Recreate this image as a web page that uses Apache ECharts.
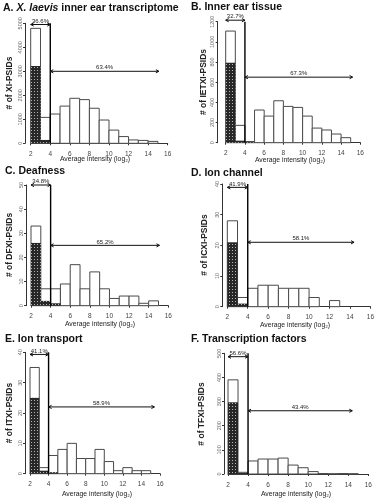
<!DOCTYPE html>
<html><head><meta charset="utf-8">
<script src="https://cdn.jsdelivr.net/npm/echarts@6/dist/echarts.min.js"></script>
<style>html,body{margin:0;padding:0;background:#fff}#c{width:377px;height:499px}</style>
</head><body><div id="c"></div>
<script>
// ---------- data ----------
const binStarts = [2,3,4,5,6,7,8,9,10,11,12,13,14];   // bins of width 1 (log2 intensity)
const xTicks = [2,4,6,8,10,12,14,16];

const allA = [4790,1080,1220,1550,1875,1820,1460,970,550,280,140,120,80];
const lowA = [3220,140,15,0,0,0,0,0,0,0,0,0,0];
const allB = [1107,172,12,324,264,416,360,350,264,145,126,86,50];
const lowB = [793,20,5,0,0,0,0,0,0,0,0,0,0];
const allC = [33,7,7,9,17,7,14,7,3,4,4,1,2];
const lowC = [26,2,1,0,0,0,0,0,0,0,0,0,0];
const allD = [28,3,6,7,7,6,6,6,3,0,2,0,0];
const lowD = [21,1,0,0,0,0,0,0,0,0,0,0,0];
const allE = [35,2,6,8,10,5,5,8,4,1,2,1,1];
const lowE = [25,1,0.5,0,0,0,0,0,0,0,0,0,0];
const allF = [390,7,54,62,62,66,37,26,10,2,1,2,1];
const lowF = [297,4,0,0,0,0,0,0,0,0,0,0,0];

const yMaxes = [5000,1200,50,40,40,500];
const ySteps = [1000,200,10,10,10,100];
const lowPct  = ['36.6%','32.7%','34.8%','41.9%','41.1%','56.6%'];
const highPct = ['63.4%','67.3%','65.2%','58.1%','58.9%','43.4%'];
const topArrowY = [4950,1215,50,38.9,39.3,486];
const midArrowY = [3000,650,25,21,22,262];
const midArrowEnd = [15.1,15.2,15.1,14.4,15.4,14.4];
const cutoff = 4;
const yNames = ['# of XI-PSIDs','# of IETXI-PSIDs','# of DFXI-PSIDs','# of ICXI-PSIDs','# of ITXI-PSIDs','# of TFXI-PSIDs'];
const titles = [
  '{b|A. }{bi|X. laevis}{b| inner ear transcriptome}',
  '{b|B. Inner ear tissue}',
  '{b|C. Deafness}',
  '{b|D. Ion channel}',
  '{b|E. Ion transport}',
  '{b|F. Transcription factors}'
];
const xName = 'Average intensity (log\u2082)';
const allSets = [allA,allB,allC,allD,allE,allF];
const lowSets = [lowA,lowB,lowC,lowD,lowE,lowF];

// ---------- layout (pixels) ----------
const layout = [
  {grid:{left:30.7,top:23.3,width:137,height:120}, yOff:5.7, title:[3,8], yName:[10,83], xName:[95,159.5]},
  {grid:{left:225.7,top:21.7,width:134.6,height:121}, yOff:8, title:[191,7.5], yName:[204,82], xName:[290,160]},
  {grid:{left:31,top:185,width:137.3,height:120.7}, yOff:5, title:[5,171], yName:[10,245], xName:[100,324.3]},
  {grid:{left:227.3,top:184,width:143.4,height:122.7}, yOff:5, title:[191,173], yName:[205,245], xName:[295,325.3]},
  {grid:{left:30,top:352.3,width:130,height:121.4}, yOff:5, title:[5,339], yName:[9.5,413], xName:[97,494.3]},
  {grid:{left:228,top:353.3,width:140.3,height:120.7}, yOff:4, title:[191,339], yName:[202,414], xName:[296,494]}
];

const FF = '"Liberation Sans", Arial, sans-serif';

// hatch pattern for the low-intensity part
const pc = document.createElement('canvas'); pc.width = 3; pc.height = 3;
const pg = pc.getContext('2d');
pg.fillStyle = '#272727'; pg.fillRect(0,0,3,3);
pg.fillStyle = '#b5b5b5'; pg.fillRect(1,1,1,1);
const hatch = {image: pc, repeat: 'repeat'};

function barRenderer(fill, stroke) {
  return function (params, api) {
    const x0 = api.value(0), x1 = api.value(1), v = api.value(2);
    if (!v) return null;
    const p0 = api.coord([x0, v]), p1 = api.coord([x1, 0]);
    return {type:'rect', shape:{x:p0[0], y:p0[1], width:p1[0]-p0[0], height:p1[1]-p0[1]},
      style:{fill: fill, stroke: stroke, lineWidth: stroke ? 1 : 0}};
  };
}

function arrowRenderer(params, api) {
  const x0 = api.value(0), x1 = api.value(1), y = api.value(2);
  const label = api.value(3);
  const p0 = api.coord([x0, y]), p1 = api.coord([x1, y]);
  const h = 3, w = 1.6;
  const ls = {stroke:'#111', lineWidth:1, fill:null};
  return {type:'group', children:[
    {type:'line', shape:{x1:p0[0], y1:p0[1], x2:p1[0], y2:p1[1]}, style:ls},
    {type:'polyline', shape:{points:[[p0[0]+h,p0[1]-w],[p0[0],p0[1]],[p0[0]+h,p0[1]+w]]}, style:ls},
    {type:'polyline', shape:{points:[[p1[0]-h,p1[1]-w],[p1[0],p1[1]],[p1[0]-h,p1[1]+w]]}, style:ls},
    {type:'text', x:(p0[0]+p1[0])/2, y:p0[1]-0.5, style:{text: String(label), font:'6px ' + FF, fill:'#222', align:'center', verticalAlign:'bottom'}}
  ]};
}

function dividerRenderer(params, api) {
  const p0 = api.coord([api.value(0), api.value(1)]), p1 = api.coord([api.value(0), api.value(2)]);
  return {type:'line', shape:{x1:p0[0], y1:p0[1], x2:p1[0], y2:p1[1]}, style:{stroke:'#000', lineWidth:1.4}};
}

const grids = [], xAxes = [], yAxes = [], series = [], graphics = [];
for (let i = 0; i < 6; i++) {
  const L = layout[i];
  grids.push(Object.assign({containLabel:false}, L.grid));
  xAxes.push({type:'value', gridIndex:i, min:xTicks[0], max:xTicks[xTicks.length-1], interval:2, offset:4,
    axisLine:{show:true, lineStyle:{color:'#333', width:1}},
    axisTick:{show:true, length:2, lineStyle:{color:'#333'}},
    axisLabel:{fontSize:6.5, color:'#444', margin:3.5, fontFamily:FF, showMinLabel:true, showMaxLabel:true,
      formatter: v => String(v)},
    splitLine:{show:false}});
  yAxes.push({type:'value', gridIndex:i, min:0, max:yMaxes[i], interval:ySteps[i], offset:L.yOff,
    axisLine:{show:true, lineStyle:{color:'#333', width:1}},
    axisTick:{show:true, length:2, lineStyle:{color:'#333'}},
    axisLabel:{fontSize:5.5, color:'#666', rotate:90, margin:2, fontFamily:FF, showMinLabel:true, showMaxLabel:true,
      formatter: v => String(v)},
    splitLine:{show:false}});
  const all = allSets[i], low = lowSets[i];
  series.push({type:'custom', xAxisIndex:i, yAxisIndex:i, renderItem:barRenderer('#fff','#4a4a4a'),
    encode:{x:[0,1], y:2}, silent:true,
    data: binStarts.map((b,k) => [b, b+1, all[k]])});
  series.push({type:'custom', xAxisIndex:i, yAxisIndex:i, renderItem:barRenderer(hatch,null),
    encode:{x:[0,1], y:2}, silent:true,
    data: binStarts.map((b,k) => [b, b+1, low[k]])});
  series.push({type:'custom', xAxisIndex:i, yAxisIndex:i, renderItem:dividerRenderer,
    encode:{x:0, y:[1,2]}, silent:true, data:[[cutoff, 0, yMaxes[i]]]});
  series.push({type:'custom', xAxisIndex:i, yAxisIndex:i, renderItem:arrowRenderer,
    encode:{x:[0,1], y:2}, silent:true,
    data:[[xTicks[0], cutoff, topArrowY[i], lowPct[i]], [cutoff, midArrowEnd[i], midArrowY[i], highPct[i]]]});

  graphics.push({type:'text', x:L.title[0], y:L.title[1], style:{text:titles[i], align:'left', verticalAlign:'middle',
    rich:{b:{fontSize:10.5, fontWeight:'bold', fontFamily:FF, fill:'#111'},
          bi:{fontSize:10.5, fontWeight:'bold', fontStyle:'italic', fontFamily:FF, fill:'#111'}}}});
  graphics.push({type:'text', x:L.yName[0], y:L.yName[1], rotation:Math.PI/2,
    style:{text:yNames[i], font:'bold 8.5px ' + FF, fill:'#222', align:'center', verticalAlign:'middle'}});
  graphics.push({type:'text', x:L.xName[0], y:L.xName[1],
    style:{text:xName, font:'6.8px ' + FF, fill:'#222', align:'center', verticalAlign:'middle'}});
}

const chart = echarts.init(document.getElementById('c'), null, {renderer:'canvas'});
chart.setOption({animation:false, backgroundColor:'#fff', grid:grids, xAxis:xAxes, yAxis:yAxes, series:series, graphic:graphics});
</script></body></html>
